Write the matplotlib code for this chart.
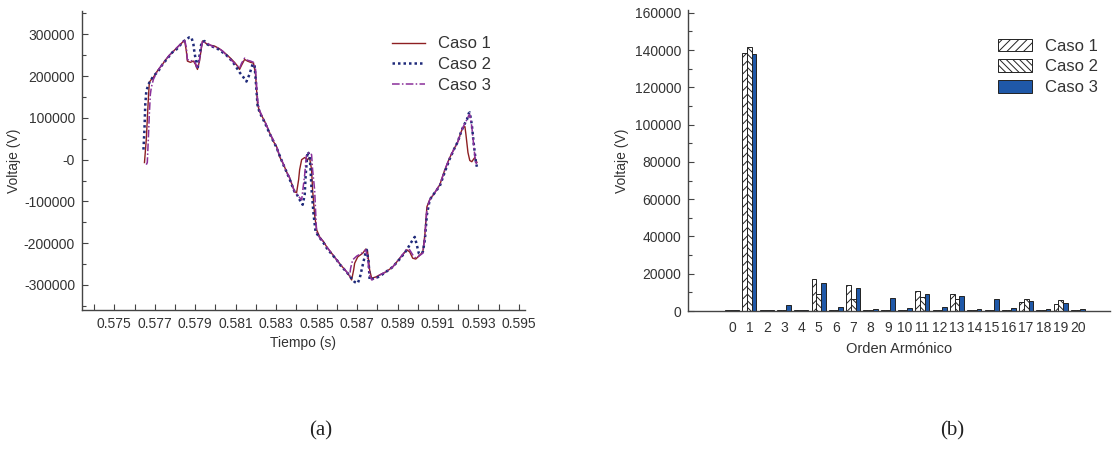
import matplotlib
matplotlib.use("Agg")
import matplotlib.pyplot as plt
import numpy as np
from matplotlib.ticker import MultipleLocator, FixedLocator, FuncFormatter

plt.rcParams['font.family'] = ['Liberation Sans', 'DejaVu Sans']

# ---------------- (a) voltage waveforms ----------------
t_caso1 = [0.57649, 0.57658, 0.57668, 0.57673, 0.57683, 0.57693, 0.57708, 0.57723, 0.57738, 0.57752,
           0.57772, 0.57787, 0.57807, 0.57822, 0.57837, 0.57847, 0.57856, 0.57861, 0.57876, 0.57891,
           0.57901, 0.57911, 0.57921, 0.57931, 0.57936, 0.57946, 0.57960, 0.57975, 0.57995, 0.58015,
           0.58035, 0.58054, 0.58074, 0.58094, 0.58109, 0.58119, 0.58129, 0.58144, 0.58158, 0.58173,
           0.58188, 0.58198, 0.58208, 0.58218, 0.58233, 0.58248, 0.58267, 0.58287, 0.58302, 0.58317,
           0.58337, 0.58351, 0.58366, 0.58381, 0.58391, 0.58401, 0.58411, 0.58416, 0.58426, 0.58441,
           0.58455, 0.58465, 0.58475, 0.58480, 0.58490, 0.58500, 0.58515, 0.58535, 0.58550, 0.58574,
           0.58599, 0.58624, 0.58649, 0.58663, 0.58673, 0.58683, 0.58688, 0.58703, 0.58728, 0.58743,
           0.58752, 0.58762, 0.58772, 0.58792, 0.58812, 0.58842, 0.58876, 0.58911, 0.58946, 0.58960,
           0.58975, 0.58990, 0.59005, 0.59025, 0.59035, 0.59045, 0.59059, 0.59084, 0.59109, 0.59134,
           0.59158, 0.59183, 0.59198, 0.59213, 0.59223, 0.59233, 0.59238, 0.59248, 0.59257, 0.59267,
           0.59277, 0.59282, 0.59292]
v_caso1 = [-7000, 48000, 144000, 185000, 192000, 197000, 209000, 219000, 228000, 238000,
           250000, 257000, 267000, 274000, 281000, 286000, 260000, 236000, 233000, 236000,
           228000, 216000, 236000, 269000, 284000, 281000, 276000, 274000, 272000, 267000,
           260000, 252000, 243000, 233000, 224000, 216000, 226000, 240000, 236000, 233000,
           231000, 204000, 132000, 115000, 101000, 87000, 65000, 43000, 31000, 7000,
           -12000, -29000, -43000, -63000, -77000, -79000, -48000, -24000, 0, 5000,
           0, 5000, -24000, -72000, -132000, -168000, -185000, -197000, -209000, -224000,
           -240000, -255000, -269000, -279000, -288000, -264000, -248000, -233000, -224000, -214000,
           -221000, -264000, -284000, -281000, -276000, -269000, -257000, -236000, -216000, -221000,
           -236000, -238000, -231000, -221000, -180000, -113000, -96000, -79000, -60000, -24000,
           5000, 29000, 43000, 65000, 77000, 79000, 60000, 17000, -2000, -5000,
           2000, 5000, -7000]

t_caso2 = [0.57644, 0.57649, 0.57653, 0.57658, 0.57668, 0.57683, 0.57693, 0.57708, 0.57723, 0.57738,
           0.57752, 0.57772, 0.57787, 0.57807, 0.57822, 0.57837, 0.57856, 0.57871, 0.57881, 0.57891,
           0.57896, 0.57911, 0.57921, 0.57931, 0.57946, 0.57960, 0.57975, 0.57995, 0.58015, 0.58035,
           0.58054, 0.58074, 0.58094, 0.58119, 0.58134, 0.58153, 0.58168, 0.58183, 0.58193, 0.58198,
           0.58208, 0.58218, 0.58233, 0.58248, 0.58267, 0.58287, 0.58302, 0.58317, 0.58337, 0.58351,
           0.58366, 0.58381, 0.58391, 0.58401, 0.58416, 0.58431, 0.58441, 0.58446, 0.58455, 0.58465,
           0.58470, 0.58475, 0.58485, 0.58495, 0.58515, 0.58535, 0.58550, 0.58574, 0.58599, 0.58624,
           0.58649, 0.58663, 0.58688, 0.58703, 0.58713, 0.58728, 0.58743, 0.58748, 0.58757, 0.58762,
           0.58772, 0.58792, 0.58812, 0.58842, 0.58876, 0.58911, 0.58946, 0.58960, 0.58975, 0.58985,
           0.58995, 0.59005, 0.59015, 0.59025, 0.59035, 0.59045, 0.59059, 0.59084, 0.59109, 0.59134,
           0.59158, 0.59183, 0.59198, 0.59213, 0.59223, 0.59233, 0.59243, 0.59252, 0.59257, 0.59267,
           0.59277, 0.59287, 0.59292]
v_caso2 = [24000, 72000, 132000, 163000, 180000, 192000, 200000, 207000, 216000, 228000,
           236000, 248000, 257000, 264000, 272000, 281000, 288000, 293000, 293000, 276000,
           257000, 216000, 248000, 281000, 284000, 276000, 272000, 269000, 264000, 257000,
           250000, 240000, 228000, 209000, 200000, 187000, 204000, 228000, 228000, 197000,
           130000, 113000, 99000, 84000, 63000, 43000, 29000, 10000, -14000, -29000,
           -46000, -65000, -77000, -82000, -96000, -108000, -84000, -36000, 19000, 12000,
           -24000, -72000, -132000, -173000, -187000, -200000, -212000, -226000, -240000, -257000,
           -269000, -279000, -293000, -296000, -284000, -252000, -221000, -216000, -245000, -288000,
           -286000, -284000, -279000, -269000, -257000, -238000, -216000, -204000, -192000, -185000,
           -204000, -224000, -226000, -221000, -192000, -132000, -96000, -79000, -63000, -29000,
           2000, 29000, 43000, 65000, 77000, 87000, 96000, 111000, 113000, 84000,
           36000, -5000, -17000]

t_caso3 = [0.57658, 0.57663, 0.57668, 0.57673, 0.57678, 0.57683, 0.57693, 0.57708, 0.57723, 0.57738,
           0.57752, 0.57772, 0.57787, 0.57807, 0.57822, 0.57837, 0.57847, 0.57856, 0.57861, 0.57876,
           0.57891, 0.57901, 0.57911, 0.57921, 0.57931, 0.57936, 0.57946, 0.57960, 0.57975, 0.57995,
           0.58015, 0.58035, 0.58054, 0.58074, 0.58094, 0.58109, 0.58119, 0.58129, 0.58144, 0.58158,
           0.58173, 0.58188, 0.58198, 0.58208, 0.58218, 0.58233, 0.58248, 0.58267, 0.58287, 0.58302,
           0.58317, 0.58337, 0.58351, 0.58366, 0.58381, 0.58391, 0.58401, 0.58416, 0.58426, 0.58441,
           0.58450, 0.58465, 0.58475, 0.58480, 0.58490, 0.58500, 0.58515, 0.58535, 0.58550, 0.58574,
           0.58599, 0.58624, 0.58649, 0.58663, 0.58668, 0.58678, 0.58698, 0.58723, 0.58743, 0.58752,
           0.58762, 0.58772, 0.58792, 0.58812, 0.58842, 0.58876, 0.58911, 0.58946, 0.58960, 0.58975,
           0.58990, 0.59005, 0.59025, 0.59035, 0.59045, 0.59059, 0.59084, 0.59109, 0.59134, 0.59158,
           0.59183, 0.59198, 0.59213, 0.59223, 0.59233, 0.59243, 0.59252, 0.59257, 0.59267, 0.59277,
           0.59287, 0.59292]
v_caso3 = [-12000, -7000, 48000, 108000, 156000, 173000, 192000, 207000, 219000, 228000,
           238000, 250000, 257000, 267000, 274000, 281000, 288000, 269000, 240000, 236000,
           238000, 231000, 219000, 240000, 272000, 284000, 281000, 279000, 274000, 269000,
           267000, 260000, 250000, 240000, 231000, 224000, 219000, 231000, 243000, 238000,
           236000, 233000, 216000, 144000, 118000, 101000, 87000, 65000, 46000, 31000,
           10000, -12000, -29000, -43000, -63000, -77000, -82000, -91000, -96000, -36000,
           12000, 17000, 12000, -24000, -72000, -175000, -187000, -197000, -209000, -224000,
           -240000, -255000, -269000, -279000, -260000, -240000, -231000, -224000, -216000, -236000,
           -276000, -288000, -284000, -276000, -269000, -257000, -236000, -214000, -216000, -228000,
           -236000, -231000, -224000, -185000, -120000, -96000, -79000, -60000, -24000, 5000,
           29000, 43000, 65000, 77000, 87000, 96000, 106000, 108000, 79000, 31000,
           -12000, -5000]

# ---------------- (b) harmonic spectrum ----------------
orden = list(range(21))
h_caso1 = [300, 138500, 300, 300, 300, 17000, 500, 13900, 300, 400, 300,
           10900, 300, 9100, 300, 400, 300, 4600, 300, 3500, 300]
h_caso2 = [300, 141500, 300, 300, 300, 9300, 500, 6600, 300, 400, 300,
           7300, 300, 6200, 300, 400, 300, 6400, 300, 5700, 300]
h_caso3 = [500, 138000, 400, 3300, 500, 15200, 2100, 12500, 1000, 6800, 1400,
           9100, 2300, 8200, 1200, 6600, 1800, 5400, 1200, 4100, 900]

text_col = '#333333'
axis_col = '#444444'

fig = plt.figure(figsize=(11.18, 4.49), dpi=100)

# ----- left panel -----
ax1 = fig.add_axes([0.0733, 0.3096, 0.3963, 0.666])
ax1.plot(t_caso1, v_caso1, color='#8e1f22', lw=1.0, label='Caso 1')
ax1.plot(t_caso2, v_caso2, color='#1f2a7a', lw=1.8, linestyle=(0, (1, 1.2)), label='Caso 2')
ax1.plot(t_caso3, v_caso3, color='#8a2f9a', lw=1.1, linestyle=(0, (5, 1.5, 1, 1.5)), label='Caso 3')
ax1.set_xlim(0.5734, 0.5953)
ax1.set_ylim(-360000, 356000)
ax1.xaxis.set_major_locator(FixedLocator([0.575 + 0.002 * i for i in range(11)]))
ax1.xaxis.set_minor_locator(FixedLocator([0.574 + 0.002 * i for i in range(11)]))
ax1.xaxis.set_major_formatter(FuncFormatter(lambda x, p: f"{x:.3f}"))
ax1.yaxis.set_major_locator(MultipleLocator(100000))
ax1.yaxis.set_minor_locator(MultipleLocator(50000))
ax1.yaxis.set_major_formatter(FuncFormatter(lambda y, p: "-0" if abs(y) < 1 else f"{y:.0f}"))
ax1.set_xlabel('Tiempo (s)', fontsize=10, color=text_col, labelpad=4)
ax1.set_ylabel('Voltaje (V)', fontsize=10, color=text_col, labelpad=2)
leg1 = ax1.legend(loc='upper left', bbox_to_anchor=(0.665, 0.965), frameon=False, fontsize=12,
                  handlelength=2.0, labelspacing=0.35, handletextpad=0.8)
for txt in leg1.get_texts():
    txt.set_color(text_col)

# ----- right panel -----
ax2 = fig.add_axes([0.6154, 0.3073, 0.3775, 0.6704])
x = np.arange(len(orden))
w = 0.27
plt.rcParams['hatch.linewidth'] = 0.7
ax2.bar(x - w, h_caso1, width=w, facecolor='white', edgecolor='#222222', linewidth=0.7,
        hatch='////', label='Caso 1')
ax2.bar(x, h_caso2, width=w, facecolor='white', edgecolor='#222222', linewidth=0.7,
        hatch='\\\\\\\\\\', label='Caso 2')
ax2.bar(x + w, h_caso3, width=w, facecolor='#1f58a8', edgecolor='#222222', linewidth=0.7,
        label='Caso 3')
ax2.set_xlim(-2.55, 21.85)
ax2.set_ylim(0, 161500)
ax2.set_xticks(x)
ax2.set_xticklabels([str(o) for o in orden])
ax2.yaxis.set_major_locator(MultipleLocator(20000))
ax2.yaxis.set_minor_locator(MultipleLocator(10000))
ax2.set_xlabel('Orden Armónico', fontsize=10.5, color=text_col, labelpad=5)
ax2.set_ylabel('Voltaje (V)', fontsize=10, color=text_col, labelpad=4)
leg2 = ax2.legend(loc='upper left', bbox_to_anchor=(0.70, 0.955), frameon=False, fontsize=12,
                  handlelength=2.0, handleheight=0.75, labelspacing=0.35, handletextpad=0.8)
for txt in leg2.get_texts():
    txt.set_color(text_col)

for ax in (ax1, ax2):
    for side in ('top', 'right'):
        ax.spines[side].set_visible(False)
    for side in ('left', 'bottom'):
        ax.spines[side].set_color(axis_col)
        ax.spines[side].set_linewidth(1.0)
    ax.tick_params(which='both', direction='in', colors=axis_col, labelcolor=text_col,
                   labelsize=10, width=0.8)
    ax.tick_params(which='major', length=4, pad=5)
    ax.tick_params(which='minor', length=3)

ax1.tick_params(axis='x', which='minor', length=4)
ax2.tick_params(axis='x', which='both', length=0, pad=7)

fig.text(0.287, 0.04, '(a)', family='Liberation Serif', fontsize=15, color='#222222',
         ha='center', va='center')
fig.text(0.852, 0.04, '(b)', family='Liberation Serif', fontsize=15, color='#222222',
         ha='center', va='center')

fig.savefig('out.png', dpi=100)
